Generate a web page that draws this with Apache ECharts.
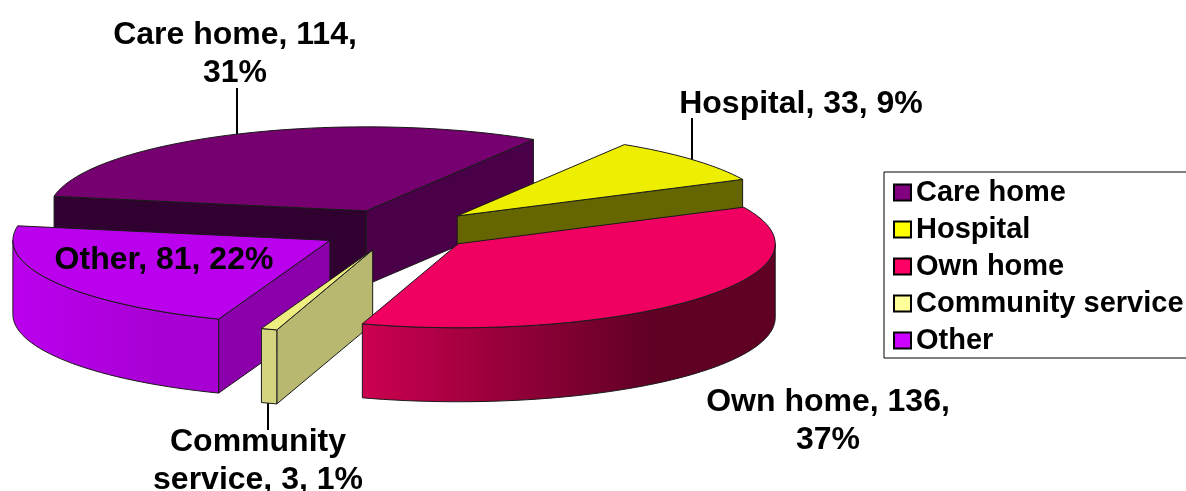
<!DOCTYPE html>
<html>
<head>
<meta charset="utf-8">
<style>
  html, body { margin: 0; padding: 0; background: #fff; overflow: hidden; }
  #chart { width: 1186px; height: 491px; }
</style>
<script src="https://cdn.jsdelivr.net/npm/echarts@6/dist/echarts.min.js"></script>
</head>
<body>
<div id="chart"></div>
<script>
const categories = ['Care home', 'Hospital', 'Own home', 'Community service', 'Other'];
const counts = [114, 33, 136, 3, 81];
const labelTexts = [
    'Care home, 114,\n31%',
    'Hospital, 33, 9%',
    'Own home, 136,\n37%',
    'Community\nservice, 3, 1%',
    'Other, 81, 22%'
];

// colours
const legendColors = ['#800080', '#ffff00', '#ff0066', '#ffff99', '#cc00ff'];
const topColors = ['#770070', '#eeee00', '#f00060', '#eeee80', '#bb00ee'];
const startFaceColors = ['#300030', '#666600', '#660030', '#b8b870', '#8c00ac'];
const endFaceColors = ['#4a0048', '#666600', '#660030', '#b8b870', '#8c00ac'];
const wallLeftColors = ['#770070', '#eeee00', '#cc0050', '#d4d480', '#bb00ee'];
const wallRightColors = ['#770070', '#eeee00', '#600025', '#d4d480', '#a800d4'];
const wallDarkStop = 0.7;   // the wall gradient is flat after this point

// pie geometry, in pixels
const centerX = 398.5, centerY = 230;
const radiusX = 317, radiusY = 84;
const depth = 74;
const explodeX = 79, explodeY = 21;
const firstAngle = 190;   // degrees clockwise from east, on the ellipse
const drawOrder = ['Care home', 'Hospital', 'Other', 'Community service', 'Own home'];

const labelX = [235, 801, 828, 258, 164];
const labelY = [54, 104, 421, 461, 260];
// leader lines, null where the label sits without one
const leaderX = [237, 692, null, 268, null];
const leaderEndY = [88, 118, null, 430, null];

const total = counts.reduce(function (a, b) { return a + b; }, 0);
const rad = function (d) { return d * Math.PI / 180; };

function sliceAngles(index) {
    var start = firstAngle;
    for (var i = 0; i < index; i++) start += counts[i] / total * 360;
    return [start, start + counts[index] / total * 360];
}

function arcPoints(cx, cy, from, to) {
    var pts = [];
    var steps = Math.max(2, Math.ceil(Math.abs(to - from) / 2));
    for (var i = 0; i <= steps; i++) {
        var a = rad(from + (to - from) * i / steps);
        pts.push([cx + radiusX * Math.cos(a), cy + radiusY * Math.sin(a)]);
    }
    return pts;
}

function makeRenderItem(index) {
    return function () {
        var angles = sliceAngles(index);
        var s = angles[0], e = angles[1], mid = (s + e) / 2;
        var cx = centerX + explodeX * Math.cos(rad(mid));
        var cy = centerY + explodeY * Math.sin(rad(mid));
        var edge = { stroke: '#1a1a1a', lineWidth: 1, lineJoin: 'round' };
        var children = [];
        var poly = function (points, fill) {
            children.push({
                type: 'polygon',
                shape: { points: points },
                style: Object.assign({ fill: fill }, edge)
            });
        };
        var sunk = function (p) { return [p[0], p[1] + depth]; };

        var sp = arcPoints(cx, cy, s, s)[0];
        var ep = arcPoints(cx, cy, e, e)[0];
        // the two cut faces, only when they turn towards the viewer
        if (Math.cos(rad(s)) < 0) {
            poly([[cx, cy], sp, sunk(sp), [cx, cy + depth]], startFaceColors[index]);
        }
        if (Math.cos(rad(e)) > 0) {
            poly([[cx, cy], ep, sunk(ep), [cx, cy + depth]], endFaceColors[index]);
        }
        // outer wall: the part of the arc on the near half of the ellipse
        [0, 360].forEach(function (shift) {
            var from = Math.max(s, shift), to = Math.min(e, shift + 180);
            if (from >= to) return;
            var arc = arcPoints(cx, cy, from, to);
            var pts = arc.concat(arc.map(sunk).reverse());
            var xs = pts.map(function (p) { return p[0]; });
            var x0 = Math.min.apply(null, xs), x1 = Math.max.apply(null, xs);
            poly(pts, new echarts.graphic.LinearGradient(x0, 0, x1, 0, [
                { offset: 0, color: wallLeftColors[index] },
                { offset: wallDarkStop, color: wallRightColors[index] },
                { offset: 1, color: wallRightColors[index] }
            ], true));
        });
        // top face
        poly([[cx, cy]].concat(arcPoints(cx, cy, s, e)), topColors[index]);

        // leader line down to the rim, which is on the ellipse at that x
        if (leaderX[index] !== null) {
            var nearSide = Math.sin(rad(mid)) > 0;
            var u = (leaderX[index] - cx) / radiusX;
            var rimY = radiusY * Math.sqrt(1 - u * u);
            children.push({
                type: 'line',
                shape: {
                    x1: leaderX[index],
                    y1: nearSide ? cy + rimY + depth : cy - rimY,
                    x2: leaderX[index],
                    y2: leaderEndY[index]
                },
                style: { stroke: '#000', lineWidth: 2 }
            });
        }
        children.push({
            type: 'text',
            x: labelX[index],
            y: labelY[index],
            style: {
                text: labelTexts[index],
                font: 'bold 32px "Liberation Sans", Arial, sans-serif',
                lineHeight: 38,
                fill: '#000',
                align: 'center',
                verticalAlign: 'middle'
            }
        });
        return { type: 'group', children: children };
    };
}

const myChart = echarts.init(document.getElementById('chart'), null, { renderer: 'canvas' });

const option = {
    animation: false,
    backgroundColor: '#fff',
    legend: {
        orient: 'vertical',
        left: 884,
        top: 172,
        padding: [6, 10, 3, 9],
        itemGap: 8,
        itemWidth: 17,
        itemHeight: 16,
        icon: 'rect',
        selectedMode: false,
        backgroundColor: '#fff',
        borderColor: '#000',
        borderWidth: 1,
        itemStyle: { borderColor: '#000', borderWidth: 2 },
        textStyle: {
            color: '#000',
            fontFamily: '"Liberation Sans", Arial, sans-serif',
            fontWeight: 'bold',
            fontSize: 29,
            padding: [0, 0, 0, 0],
            lineHeight: 28
        },
        data: categories
    },
    series: categories.map(function (name, i) {
        return {
            type: 'custom',
            name: name,
            coordinateSystem: 'none',
            silent: true,
            z: drawOrder.indexOf(name) + 2,
            itemStyle: { color: legendColors[i] },
            data: [counts[i]],
            renderItem: makeRenderItem(i)
        };
    })
};
myChart.setOption(option);
</script>
</body>
</html>
